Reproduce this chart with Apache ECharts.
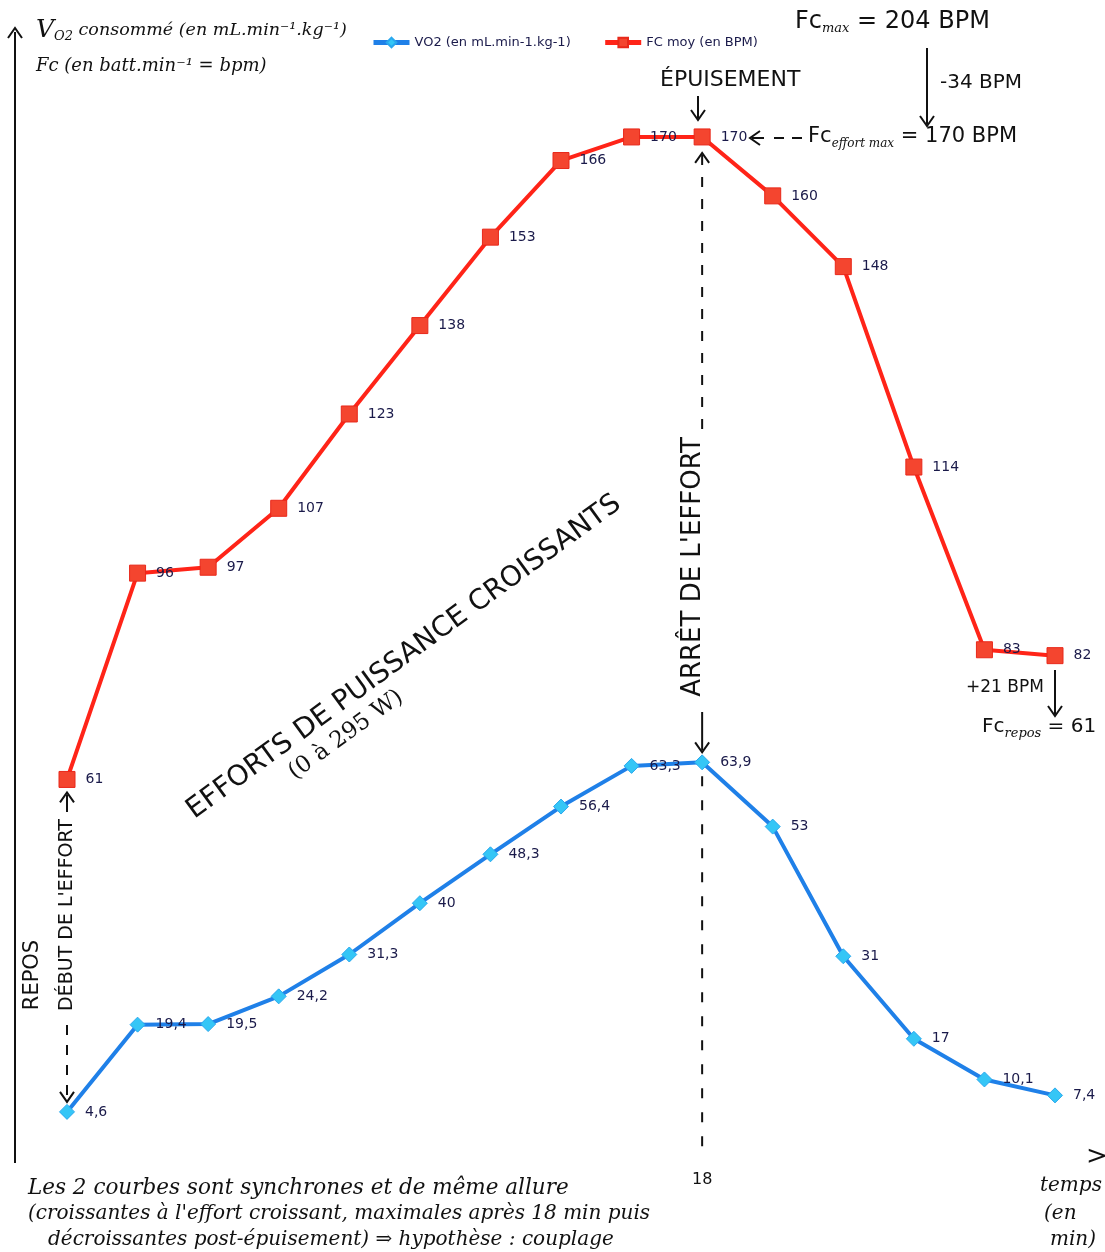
<!DOCTYPE html>
<html>
<head>
<meta charset="utf-8">
<script src="https://cdn.jsdelivr.net/npm/echarts@6/dist/echarts.min.js"></script>
<style>
  html, body { margin: 0; padding: 0; background: #fff; }
  #chart { width: 1105px; height: 1252px; }
</style>
</head>
<body>
<div id="chart"></div>
<script>
// minutes (every 2 min), effort stops at 18
const minutes = ["0", "2", "4", "6", "8", "10", "12", "14", "16", "18", "20", "22", "24", "26", "28"];
const vo2 = [4.6, 19.4, 19.5, 24.2, 31.3, 40, 48.3, 56.4, 63.3, 63.9, 53, 31, 17, 10.1, 7.4];
const fcMoy = [61, 96, 97, 107, 123, 138, 153, 166, 170, 170, 160, 148, 114, 83, 82];
const stopMinute = "18";

const chart = echarts.init(document.getElementById("chart"));

const labelStyle = {
  show: true,
  position: "right",
  distance: 10,
  color: "#1a1a4a",
  fontSize: 14,
  fontFamily: "DejaVu Sans",
  formatter: (p) => String(p.value).replace(".", ","),
};

chart.setOption({
  animation: false,
  backgroundColor: "#fff",
  legend: {
    left: 366,
    top: 31,
    itemWidth: 36,
    itemHeight: 12,
    itemGap: 32,
    lineStyle: { width: 5 },
    textStyle: { color: "#1a1a4a", fontSize: 13, fontFamily: "DejaVu Sans" },
    data: ["VO2 (en mL.min-1.kg-1)", "FC moy (en BPM)"],
  },
  grid: { left: 67, right: 50, top: 78, bottom: 113 },
  xAxis: {
    type: "category",
    data: minutes,
    boundaryGap: false,
    show: false,
  },
  yAxis: { type: "value", min: 0, max: 180, show: false },
  series: [
    {
      name: "VO2 (en mL.min-1.kg-1)",
      type: "line",
      data: vo2,
      symbol: "diamond",
      symbolSize: 15,
      lineStyle: { color: "#1f80e8", width: 4 },
      itemStyle: { color: "#35c6f6", borderColor: "#2aa8ee", borderWidth: 1 },
      label: labelStyle,
      z: 3,
    },
    {
      name: "FC moy (en BPM)",
      type: "line",
      data: fcMoy,
      symbol: "rect",
      symbolSize: 16,
      lineStyle: { color: "#ff2418", width: 4 },
      itemStyle: { color: "#f4452f", borderColor: "#e8281a", borderWidth: 1 },
      label: labelStyle,
      z: 3,
    },
  ],
});

// hand-drawn style annotations
const ink = "#111";
const hand = "'DejaVu Serif'";
const block = "'DejaVu Sans'";
const [stopX, topY] = chart.convertToPixel({ gridIndex: 0 }, [stopMinute, 170]);
const vo2StopY = chart.convertToPixel({ gridIndex: 0 }, [stopMinute, 63.9])[1];
const [startX, fcStartY] = chart.convertToPixel({ gridIndex: 0 }, ["0", 61]);
const vo2StartY = chart.convertToPixel({ gridIndex: 0 }, ["0", 4.6])[1];

function line(x1, y1, x2, y2, dash) {
  return {
    type: "line",
    shape: { x1, y1, x2, y2 },
    style: { stroke: ink, lineWidth: 2, lineDash: dash || null },
    silent: true,
  };
}
function head(x, y, dir) {
  // dir: 'up' | 'down' | 'left'
  const s = 7;
  let pts;
  if (dir === "up") pts = [[x - s, y + s + 3], [x, y], [x + s, y + s + 3]];
  else if (dir === "down") pts = [[x - s, y - s - 3], [x, y], [x + s, y - s - 3]];
  else pts = [[x + s + 3, y - s], [x, y], [x + s + 3, y + s]];
  return { type: "polyline", shape: { points: pts }, style: { stroke: ink, lineWidth: 2, fill: null }, silent: true };
}
function text(x, y, str, size, opts) {
  opts = opts || {};
  return {
    type: "text",
    x, y,
    rotation: opts.rotation || 0,
    style: {
      text: str,
      fill: ink,
      fontSize: size,
      fontFamily: opts.family || hand,
      fontStyle: opts.italic ? "italic" : "normal",
      fontWeight: opts.weight || "normal",
      align: opts.align || "left",
      verticalAlign: opts.va || "middle",
      rich: opts.rich,
    },
    silent: true,
  };
}

const sub = { fontSize: 13, fontFamily: hand, fontStyle: "italic", padding: [14, 0, 0, 0], fill: ink };
const big = { fontSize: 24, fontFamily: block, fill: ink };

const g = [
  // y axis
  line(15, 32, 15, 1163),
  head(15, 28, "up"),
  text(36, 30, "{v|V}{s|O2} consommé (en mL.min⁻¹.kg⁻¹)", 17.5, {
    italic: true,
    rich: { v: { fontSize: 25, fontFamily: hand, fontStyle: "italic" }, s: sub },
  }),
  text(36, 66, "Fc (en batt.min⁻¹ = bpm)", 18, { italic: true }),

  // Fc max
  text(795, 22, "{b|Fc}{s|max}{b| = 204 BPM}", 24, { family: block, rich: { b: big, s: sub } }),
  line(927, 48, 927, 124),
  head(927, 126, "down"),
  text(940, 83, "-34 BPM", 20, { family: block }),

  // épuisement
  text(660, 80, "ÉPUISEMENT", 22, { family: block }),
  line(698, 96, 698, 118),
  head(698, 120, "down"),

  // Fc effort max
  head(750, 138, "left"),
  line(752, 138, 764, 138),
  line(774, 138, 784, 138),
  line(792, 138, 802, 138),
  text(808, 137, "{b|Fc}{s|effort max}{b| = 170 BPM}", 21, {
    family: block,
    rich: { b: { fontSize: 21, fontFamily: block, fill: ink }, s: { ...sub, fontSize: 12 } },
  }),

  // arrêt de l'effort
  head(stopX, topY + 16, "up"),
  line(stopX, topY + 18, stopX, 430, [10, 12]),
  text(stopX - 9, 567, "ARRÊT DE L'EFFORT", 26, { family: block, rotation: Math.PI / 2, align: "center" }),
  line(stopX, 712, stopX, vo2StopY - 12),
  head(stopX, vo2StopY - 10, "down"),
  line(stopX, vo2StopY + 14, stopX, 1160, [10, 14]),
  text(stopX, 1180, "18", 16, { family: block, align: "center" }),

  // efforts de puissance croissants
  text(404, 657, "EFFORTS DE PUISSANCE CROISSANTS", 28, { family: block, rotation: 0.63, align: "center" }),
  text(346, 735, "(0 à 295 W)", 23, { rotation: 0.63, align: "center" }),

  // repos / début de l'effort
  text(33, 975, "REPOS", 21, { family: block, rotation: Math.PI / 2, align: "center" }),
  head(startX, fcStartY + 13, "up"),
  line(startX, fcStartY + 15, startX, 812),
  text(startX, 915, "DÉBUT DE L'EFFORT", 19, { family: block, rotation: Math.PI / 2, align: "center" }),
  line(startX, 1025, startX, vo2StartY - 12, [10, 10]),
  head(startX, vo2StartY - 10, "down"),

  // Fc repos
  text(966, 688, "+21 BPM", 17, { family: block }),
  line(1055, 670, 1055, 714),
  head(1055, 716, "down"),
  text(982, 727, "{b|Fc}{s|repos}{b| = 61}", 20, {
    family: block,
    rich: { b: { fontSize: 20, fontFamily: block, fill: ink }, s: sub },
  }),

  // time axis hint
  text(1086, 1157, ">", 26, { italic: true }),
  text(1040, 1186, "temps", 20, { italic: true }),
  text(1044, 1214, "(en", 20, { italic: true }),
  text(1050, 1240, "min)", 20, { italic: true }),

  // conclusion
  text(28, 1188, "Les 2 courbes sont synchrones et de même allure", 21.5, { italic: true }),
  text(28, 1214, "(croissantes à l'effort croissant, maximales après 18 min puis", 20, { italic: true }),
  text(48, 1240, "décroissantes post-épuisement) ⇒ hypothèse : couplage", 20, { italic: true }),
];

chart.setOption({ graphic: { elements: g } });
</script>
</body>
</html>
